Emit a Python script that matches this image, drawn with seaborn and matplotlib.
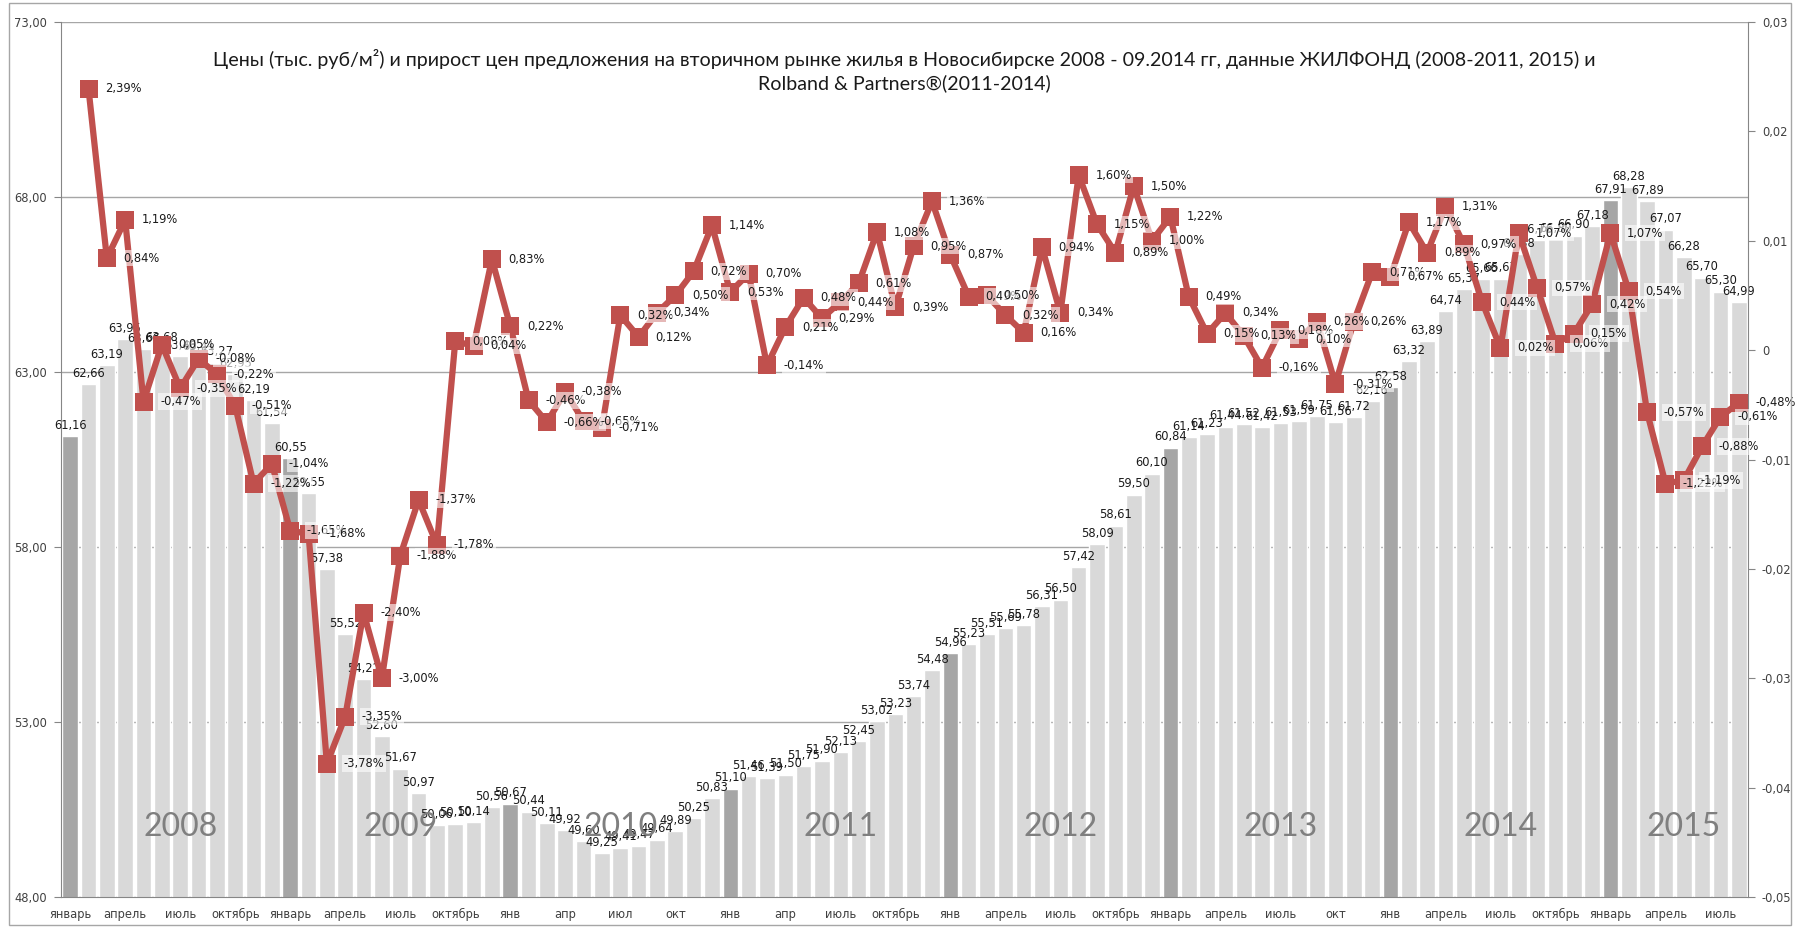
import matplotlib.pyplot as plt
from matplotlib.patches import Rectangle
import numpy as np
import pandas as pd
import seaborn as sns

# Цены, тыс. руб/м2, помесячно (январь 2008 - август 2015)
years = [2008, 2009, 2010, 2011, 2012, 2013, 2014, 2015]
price_2008 = [61.16, 62.66, 63.19, 63.95, 63.66, 63.68, 63.46, 63.41, 63.27, 62.95, 62.19, 61.54]
price_2009 = [60.55, 59.55, 57.38, 55.52, 54.22, 52.60, 51.67, 50.97, 50.06, 50.10, 50.14, 50.56]
price_2010 = [50.67, 50.44, 50.11, 49.92, 49.60, 49.25, 49.41, 49.47, 49.64, 49.89, 50.25, 50.83]
price_2011 = [51.10, 51.46, 51.39, 51.50, 51.75, 51.90, 52.13, 52.45, 53.02, 53.23, 53.74, 54.48]
price_2012 = [54.96, 55.23, 55.51, 55.69, 55.78, 56.31, 56.50, 57.42, 58.09, 58.61, 59.50, 60.10]
price_2013 = [60.84, 61.14, 61.23, 61.44, 61.52, 61.42, 61.53, 61.59, 61.75, 61.56, 61.72, 62.16]
price_2014 = [62.58, 63.32, 63.89, 64.74, 65.37, 65.66, 65.67, 66.38, 66.76, 66.80, 66.90, 67.18]
price_2015 = [67.91, 68.28, 67.89, 67.07, 66.28, 65.70, 65.30, 64.99]

# Прирост к предыдущему месяцу, % (с февраля 2008)
growth_pct = [2.39, 0.84, 1.19, -0.47, 0.05, -0.35, -0.08, -0.22, -0.51, -1.22, -1.04,
              -1.65, -1.68, -3.78, -3.35, -2.40, -3.00, -1.88, -1.37, -1.78, 0.08, 0.04, 0.83,
              0.22, -0.46, -0.66, -0.38, -0.65, -0.71, 0.32, 0.12, 0.34, 0.50, 0.72, 1.14,
              0.53, 0.70, -0.14, 0.21, 0.48, 0.29, 0.44, 0.61, 1.08, 0.39, 0.95, 1.36,
              0.87, 0.49, 0.50, 0.32, 0.16, 0.94, 0.34, 1.60, 1.15, 0.89, 1.50, 1.00,
              1.22, 0.49, 0.15, 0.34, 0.13, -0.16, 0.18, 0.10, 0.26, -0.31, 0.26, 0.71,
              0.67, 1.17, 0.89, 1.31, 0.97, 0.44, 0.02, 1.07, 0.57, 0.06, 0.15, 0.42,
              1.07, 0.54, -0.57, -1.22, -1.19, -0.88, -0.61, -0.48]

# Подписи оси X (каждые 3 месяца)
month_labels = ['январь', 'апрель', 'июль', 'октябрь',
                'январь', 'апрель', 'июль', 'октябрь',
                'янв', 'апр', 'июл', 'окт',
                'янв', 'апр', 'июль', 'октябрь',
                'янв', 'апрель', 'июль', 'октябрь',
                'январь', 'апрель', 'июль', 'окт',
                'янв', 'апрель', 'июль', 'октябрь',
                'январь', 'апрель', 'июль']

title = ('Цены (тыс. руб/м²) и прирост цен предложения на вторичном рынке жилья в Новосибирске 2008 - 09.2014 гг, '
         'данные ЖИЛФОНД (2008-2011, 2015) и\nRolband & Partners®(2011-2014)')

prices = price_2008 + price_2009 + price_2010 + price_2011 + price_2012 + price_2013 + price_2014 + price_2015
n = len(prices)
df = pd.DataFrame({'idx': range(n), 'price': prices,
                   'kind': ['jan' if i % 12 == 0 else 'other' for i in range(n)]})
df_g = pd.DataFrame({'idx': range(1, n), 'growth': np.array(growth_pct) / 100})

sns.set_style('white')
plt.rcParams['font.family'] = ['DejaVu Sans']

fig = plt.figure(figsize=(17.95, 9.27), dpi=100)
ax = fig.add_axes([61 / 1795, 30 / 927, 1687 / 1795, 875 / 927])

sns.barplot(data=df, x='idx', y='price', hue='kind', palette={'jan': '#a6a6a6', 'other': '#d9d9d9'},
            dodge=False, width=0.85, saturation=1, legend=False, ax=ax)

ax.set_ylim(48, 73)
ax.set_xlim(-0.5, n - 0.5)
ax.set_yticks(np.arange(48, 74, 5))
ax.set_yticklabels([f'{v:.2f}'.replace('.', ',') for v in np.arange(48, 74, 5)])
ax.yaxis.grid(True, color='#a6a6a6', lw=1)
ax.set_axisbelow(True)
ax.set_xlabel('')
ax.set_ylabel('')

# подписи месяцев и штрихи между категориями
ax.set_xticks(np.arange(0, n, 3))
ax.set_xticklabels(month_labels)
ax.set_xticks(np.arange(-0.5, n, 1), minor=True)
ax.tick_params(axis='x', which='major', length=0, pad=8, labelsize=8.3, labelcolor='#404040')
ax.tick_params(axis='x', which='minor', length=5, color='#868686', width=1)
ax.tick_params(axis='y', length=5, color='#868686', pad=5, labelsize=8.3, labelcolor='#404040', left=True)
for s in ['top', 'right']:
    ax.spines[s].set_visible(False)
for s in ['left', 'bottom']:
    ax.spines[s].set_color('#868686')

# значения над столбцами
for i, v in enumerate(prices):
    ax.annotate(f'{v:.2f}'.replace('.', ','), (i, v), xytext=(0, 3), textcoords='offset points',
                ha='center', va='bottom', fontsize=8.3, color='#1a1a1a')

# годы
for k, yr in enumerate(years):
    cnt = min(12, n - 12 * k)
    ax.text(12 * k + (cnt - 1) / 2 + 0.5, 50.0, str(yr), ha='center', va='center',
            fontsize=23, color='#7f7f7f', family=['Lato', 'DejaVu Sans'])

# прирост цен
ax2 = ax.twinx()
sns.lineplot(data=df_g, x='idx', y='growth', ax=ax2, color='#c0504d', lw=4.5,
             marker='s', markersize=13, markeredgewidth=0)
ax2.set_ylim(-0.05, 0.03)
ax2.set_xlim(-0.5, n - 0.5)
rt = np.round(np.arange(-0.05, 0.031, 0.01), 2)
ax2.set_yticks(rt)
ax2.set_yticklabels(['0' if v == 0 else f'{v:.2f}'.replace('.', ',') for v in rt])
ax2.tick_params(axis='y', length=5, color='#868686', pad=5, labelsize=8.3, labelcolor='#404040', right=True)
ax2.set_ylabel('')
ax2.grid(False)
for s in ['top', 'left', 'bottom']:
    ax2.spines[s].set_visible(False)
ax2.spines['right'].set_color('#868686')

for x, g in zip(df_g['idx'], growth_pct):
    ax2.annotate(f'{g:.2f}%'.replace('.', ','), (x, g / 100), xytext=(12, 0), textcoords='offset points',
                 ha='left', va='center', fontsize=8.3, color='#1a1a1a',
                 bbox=dict(boxstyle='square,pad=0.15', fc='white', ec='none', alpha=0.6))

ax2.text(0.5, 0.944, title, transform=ax2.transAxes, ha='center', va='center',
         multialignment='center', fontsize=14.1, linespacing=1.35, color='#1a1a1a',
         family=['Lato', 'DejaVu Sans'])

fig.patches.append(Rectangle((9 / 1795, 2 / 927), 1782 / 1795, 922 / 927, transform=fig.transFigure,
                             fill=False, ec='#a6a6a6', lw=1))

fig.savefig('out.png', dpi=100)
